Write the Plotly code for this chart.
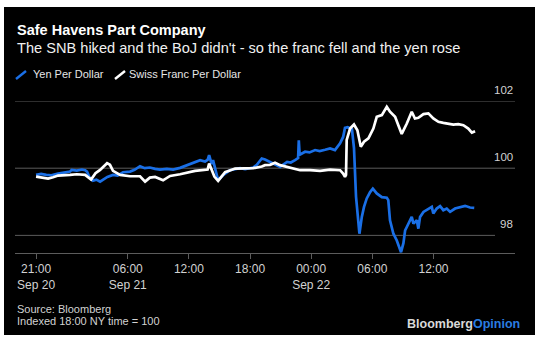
import plotly.graph_objects as go

# ---------------- data ----------------
series_names = ["Yen Per Dollar", "Swiss Franc Per Dollar"]

yen_times = [
    "2022-09-20 21:00", "2022-09-20 21:30", "2022-09-20 22:00", "2022-09-20 22:30", "2022-09-20 23:10",
    "2022-09-20 23:40", "2022-09-21 00:20", "2022-09-21 00:30", "2022-09-21 01:00", "2022-09-21 01:30",
    "2022-09-21 01:49", "2022-09-21 02:00", "2022-09-21 02:15", "2022-09-21 02:35", "2022-09-21 02:55",
    "2022-09-21 03:17", "2022-09-21 03:40", "2022-09-21 04:00", "2022-09-21 04:33", "2022-09-21 05:00",
    "2022-09-21 05:32", "2022-09-21 06:13", "2022-09-21 06:40", "2022-09-21 07:12", "2022-09-21 07:40",
    "2022-09-21 08:10", "2022-09-21 08:41", "2022-09-21 09:10", "2022-09-21 09:50", "2022-09-21 10:27",
    "2022-09-21 11:08", "2022-09-21 11:47", "2022-09-21 12:10", "2022-09-21 12:36", "2022-09-21 13:06",
    "2022-09-21 13:35", "2022-09-21 13:50", "2022-09-21 13:59", "2022-09-21 14:05", "2022-09-21 14:14",
    "2022-09-21 14:22", "2022-09-21 14:35", "2022-09-21 14:52", "2022-09-21 15:21", "2022-09-21 15:40",
    "2022-09-21 16:02", "2022-09-21 16:30", "2022-09-21 17:01", "2022-09-21 17:31", "2022-09-21 18:18",
    "2022-09-21 18:40", "2022-09-21 19:09", "2022-09-21 19:28", "2022-09-21 19:58", "2022-09-21 20:27",
    "2022-09-21 20:57", "2022-09-21 21:38", "2022-09-21 22:00", "2022-09-21 22:25", "2022-09-21 22:43",
    "2022-09-21 22:47", "2022-09-21 22:52", "2022-09-21 23:24", "2022-09-21 23:50", "2022-09-22 00:23",
    "2022-09-22 00:50", "2022-09-22 01:22", "2022-09-22 01:51", "2022-09-22 02:20", "2022-09-22 02:50",
    "2022-09-22 03:08", "2022-09-22 03:19", "2022-09-22 03:35", "2022-09-22 03:50", "2022-09-22 04:00",
    "2022-09-22 04:12", "2022-09-22 04:18", "2022-09-22 04:24", "2022-09-22 04:44", "2022-09-22 04:58",
    "2022-09-22 05:11", "2022-09-22 05:27", "2022-09-22 05:47", "2022-09-22 06:03", "2022-09-22 06:26",
    "2022-09-22 06:56", "2022-09-22 07:25", "2022-09-22 07:34", "2022-09-22 07:44", "2022-09-22 08:04",
    "2022-09-22 08:24", "2022-09-22 08:43", "2022-09-22 08:49", "2022-09-22 09:03", "2022-09-22 09:13",
    "2022-09-22 09:23", "2022-09-22 09:42", "2022-09-22 09:52", "2022-09-22 10:02", "2022-09-22 10:22",
    "2022-09-22 10:31", "2022-09-22 10:41", "2022-09-22 11:01", "2022-09-22 11:30", "2022-09-22 11:50",
    "2022-09-22 11:59", "2022-09-22 12:19", "2022-09-22 12:39", "2022-09-22 12:58", "2022-09-22 13:18",
    "2022-09-22 13:38", "2022-09-22 14:07", "2022-09-22 14:37", "2022-09-22 15:06", "2022-09-22 15:35",
    "2022-09-22 16:00",
]
yen_values = [
    99.80, 99.83, 99.80, 99.79, 99.84,
    99.86, 99.90, 99.95, 99.93, 99.96,
    99.94, 99.90, 99.72, 99.63, 99.66,
    99.60, 99.68, 99.74, 99.80, 99.78,
    99.88, 99.90, 99.95, 100.06, 100.00,
    100.02, 99.98, 99.96, 99.98, 99.96,
    100.01, 100.09, 100.12, 100.19, 100.24,
    100.20, 100.25, 100.39, 100.30, 100.12,
    100.24, 99.98, 99.64, 99.79, 99.85,
    99.94, 99.97, 100.00, 99.97, 100.02,
    100.10, 100.29, 100.26, 100.19, 100.12,
    100.04, 100.19, 100.17, 100.24, 100.30,
    100.83, 100.40, 100.49, 100.47, 100.54,
    100.51, 100.55, 100.59, 100.54, 100.74,
    100.93, 101.20, 101.22, 101.18, 101.16,
    100.60, 99.55, 99.15, 98.05, 98.55,
    98.85, 99.10, 99.29, 99.39, 99.25,
    99.14, 99.12, 99.05, 98.45, 98.05,
    97.85, 97.60, 97.50, 97.77, 98.15,
    98.25, 98.45, 98.55, 98.35, 98.45,
    98.20, 98.55, 98.70, 98.80, 98.85,
    98.65, 98.80, 98.87, 98.75, 98.80,
    98.70, 98.80, 98.85, 98.88, 98.83,
    98.82,
]

chf_times = [
    "2022-09-20 21:00", "2022-09-20 21:40", "2022-09-20 22:11", "2022-09-20 22:40", "2022-09-20 23:10",
    "2022-09-21 00:20", "2022-09-21 01:00", "2022-09-21 01:49", "2022-09-21 02:06", "2022-09-21 02:24",
    "2022-09-21 02:50", "2022-09-21 03:17", "2022-09-21 03:58", "2022-09-21 04:15", "2022-09-21 04:33",
    "2022-09-21 05:15", "2022-09-21 06:13", "2022-09-21 07:12", "2022-09-21 07:42", "2022-09-21 08:10",
    "2022-09-21 08:41", "2022-09-21 09:28", "2022-09-21 10:09", "2022-09-21 11:08", "2022-09-21 12:36",
    "2022-09-21 13:35", "2022-09-21 13:50", "2022-09-21 13:59", "2022-09-21 14:10", "2022-09-21 14:30",
    "2022-09-21 14:52", "2022-09-21 15:33", "2022-09-21 16:32", "2022-09-21 17:31", "2022-09-21 18:18",
    "2022-09-21 19:09", "2022-09-21 19:28", "2022-09-21 19:58", "2022-09-21 20:27", "2022-09-21 20:57",
    "2022-09-21 21:56", "2022-09-21 22:55", "2022-09-21 23:53", "2022-09-22 00:52", "2022-09-22 01:51",
    "2022-09-22 02:50", "2022-09-22 03:08", "2022-09-22 03:19", "2022-09-22 03:25", "2022-09-22 03:29",
    "2022-09-22 03:49", "2022-09-22 04:12", "2022-09-22 04:32", "2022-09-22 04:52", "2022-09-22 05:11",
    "2022-09-22 05:37", "2022-09-22 06:06", "2022-09-22 06:26", "2022-09-22 06:56", "2022-09-22 07:25",
    "2022-09-22 07:44", "2022-09-22 08:14", "2022-09-22 08:33", "2022-09-22 08:53", "2022-09-22 09:23",
    "2022-09-22 09:52", "2022-09-22 10:11", "2022-09-22 10:31", "2022-09-22 11:01", "2022-09-22 11:30",
    "2022-09-22 11:59", "2022-09-22 12:29", "2022-09-22 12:58", "2022-09-22 13:28", "2022-09-22 13:57",
    "2022-09-22 14:26", "2022-09-22 14:56", "2022-09-22 15:25", "2022-09-22 15:46", "2022-09-22 16:05",
]
chf_values = [
    99.75, 99.72, 99.69, 99.73, 99.78,
    99.80, 99.82, 99.80, 99.74, 99.66,
    99.85, 99.95, 100.15, 100.10, 99.92,
    99.80, 99.76, 99.76, 99.60, 99.72,
    99.74, 99.64, 99.77, 99.82, 99.92,
    99.94, 99.96, 100.14, 100.00, 99.75,
    99.62, 99.88, 99.99, 99.99, 100.00,
    100.05, 100.09, 100.10, 100.16, 100.09,
    100.02, 99.94, 99.94, 99.92, 99.96,
    99.94, 99.84, 99.74, 99.80, 100.84,
    101.18, 101.30, 101.13, 100.64, 100.79,
    100.89, 101.18, 101.53, 101.58, 101.83,
    101.68, 101.53, 101.28, 101.02, 101.33,
    101.68, 101.48, 101.50, 101.61, 101.63,
    101.48, 101.38, 101.35, 101.33, 101.30,
    101.31, 101.28, 101.18, 101.06, 101.10,
]

y_ticks = [98, 100, 102]
x_tickvals = ["2022-09-20 21:00", "2022-09-21 06:00", "2022-09-21 12:00", "2022-09-21 18:00",
              "2022-09-22 00:00", "2022-09-22 06:00", "2022-09-22 12:00"]
x_ticktext = ["21:00<br>Sep 20", "06:00<br>Sep 21", "12:00", "18:00",
              "00:00<br>Sep 22", "06:00", "12:00"]

title = "Safe Havens Part Company"
subtitle = "The SNB hiked and the BoJ didn't - so the franc fell and the yen rose"
footnotes = ["Source: Bloomberg", "Indexed 18:00 NY time = 100"]

# ---------------- layout helpers ----------------
W, H = 535, 341
ML, MR, MT, MB = 15, 20, 101, 88
PW, PH = W - ML - MR, H - MT - MB


def px(x):
    return (x - ML) / PW


def py(y):
    return (H - MB - y) / PH


BLUE = "#1a6fe6"
WHITE = "#ffffff"
GRID = "#5c5c5c"
TXT = "#d2d2d2"
FONT = "Liberation Sans, Arial, sans-serif"
LW = 2.7

fig = go.Figure()
fig.add_trace(go.Scatter(x=yen_times, y=yen_values, mode="lines", name=series_names[0],
                         line=dict(color=BLUE, width=LW), showlegend=False))
fig.add_trace(go.Scatter(x=chf_times, y=chf_values, mode="lines", name=series_names[1],
                         line=dict(color=WHITE, width=LW), showlegend=False))

shapes = []
# black card with thin white border at top/left/bottom
shapes.append(dict(type="rect", xref="paper", yref="paper", x0=px(4), x1=px(536), y0=py(335), y1=py(7),
                   fillcolor="#000000", line=dict(width=0), layer="below"))
# gridlines
for v in y_ticks:
    x_end = 1.0 if v != 98 else px(495)
    shapes.append(dict(type="line", xref="paper", yref="y", x0=0, x1=x_end, y0=v, y1=v,
                       line=dict(color=GRID, width=1), layer="below"))
# legend slashes
for i, c in enumerate([BLUE, WHITE]):
    x0 = [16, 115][i]
    shapes.append(dict(type="line", xref="paper", yref="paper", x0=px(x0), x1=px(x0 + 10),
                       y0=py(79), y1=py(71), line=dict(color=c, width=2.4)))

annotations = []
annotations.append(dict(text="<b>" + title + "</b>", xref="paper", yref="paper", x=px(15), y=py(30.5),
                        xanchor="left", yanchor="middle", showarrow=False,
                        font=dict(family=FONT, size=14.5, color="#ffffff")))
annotations.append(dict(text=subtitle, xref="paper", yref="paper", x=px(15), y=py(48.5),
                        xanchor="left", yanchor="middle", showarrow=False,
                        font=dict(family=FONT, size=14.6, color="#f0f0f0")))
for i, name in enumerate(series_names):
    annotations.append(dict(text=name, xref="paper", yref="paper", x=px([30.5, 127][i]), y=py(74),
                            xanchor="left", yanchor="middle", showarrow=False,
                            font=dict(family=FONT, size=11, color="#e6e6e6")))
for v in y_ticks:
    annotations.append(dict(text=str(v), xref="paper", yref="y", x=1.0, y=v, yshift=11,
                            xanchor="right", yanchor="middle", showarrow=False,
                            font=dict(family=FONT, size=11.5, color=TXT)))
for i, t in enumerate(footnotes):
    annotations.append(dict(text=t, xref="paper", yref="paper", x=px(15), y=py([308.5, 321][i]),
                            xanchor="left", yanchor="middle", showarrow=False,
                            font=dict(family=FONT, size=11, color=TXT)))
annotations.append(dict(text="<b><span style='color:#d9d9d9'>Bloomberg</span>"
                             "<span style='color:#2a7de1'>Opinion</span></b>",
                        xref="paper", yref="paper", x=px(522), y=py(323.5),
                        xanchor="right", yanchor="middle", showarrow=False,
                        font=dict(family=FONT, size=12.5)))

fig.update_layout(
    width=W, height=H,
    margin=dict(l=ML, r=MR, t=MT, b=MB),
    paper_bgcolor="#ffffff",
    plot_bgcolor="rgba(0,0,0,0)",
    shapes=shapes,
    annotations=annotations,
    xaxis=dict(type="date", range=["2022-09-20 18:56", "2022-09-22 20:00"],
               tickvals=x_tickvals, ticktext=x_ticktext, showgrid=False, zeroline=False,
               showline=True, linecolor=GRID, linewidth=1,
               ticks="outside", ticklen=5, tickcolor=GRID, tickwidth=1,
               tickfont=dict(family=FONT, size=12, color=TXT)),
    yaxis=dict(range=[97.476, 102.0], showgrid=False, zeroline=False, showticklabels=False,
               showline=False, fixedrange=True),
    showlegend=False,
)

fig.write_html("out.html")
